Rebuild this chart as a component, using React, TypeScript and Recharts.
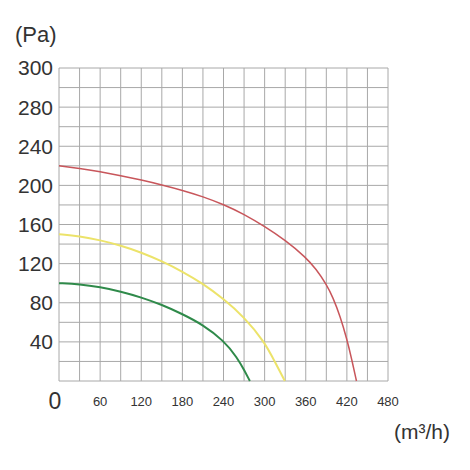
import { LineChart, Line, XAxis, YAxis, CartesianGrid } from 'recharts';

// air flow (m³/h) and static pressure (Pa)
const redFlow = [0, 30, 60, 90, 120, 150, 180, 210, 240, 270, 300, 330, 360, 375, 390, 400, 410, 420, 427, 434];
const redPressure = [220, 217.5, 214, 210, 205.5, 200.5, 195, 188.5, 180.5, 170.5, 158, 144, 126.5, 114.5, 99, 85, 66.5, 43, 22.5, 0];

const yellowFlow = [0, 30, 60, 90, 120, 150, 180, 210, 240, 270, 300, 315, 329.5];
const yellowPressure = [150, 148, 144, 138.5, 131.5, 122.5, 112, 99.5, 84, 65.5, 40, 19.5, 0];

const greenFlow = [0, 30, 60, 90, 120, 150, 180, 210, 240, 260, 271, 278.5];
const greenPressure = [100, 99, 96, 91.5, 85.5, 78, 68.5, 57.5, 41.5, 24, 10, 0];

const xTicks = [0, 60, 120, 180, 240, 300, 360, 420, 480];
const yTicks = [40, 80, 120, 160, 200, 240, 280, 320];
// the printed scale says 300 on the top line
const yTickLabels = ['40', '80', '120', '160', '200', '240', '280', '300'];

const xGrid = [0, 30, 60, 90, 120, 150, 180, 210, 240, 270, 300, 330, 360, 390, 420, 450, 480];
const yGrid = [0, 20, 40, 60, 80, 100, 120, 140, 160, 180, 200, 220, 240, 260, 280, 300, 320];

const toRows = (flow: number[], pressure: number[]) => flow.map((q, i) => ({ q, p: pressure[i] }));

const redData = toRows(redFlow, redPressure);
const yellowData = toRows(yellowFlow, yellowPressure);
const greenData = toRows(greenFlow, greenPressure);

const font = '"Liberation Sans", Arial, sans-serif';
const textColor = '#333';

const XTick = (props: any) => {
  const { x, y, payload } = props;
  const isZero = payload.value === 0;
  return (
    <text
      x={isZero ? x - 4 : x}
      y={isZero ? y + 20 : y + 17}
      textAnchor="middle"
      fontSize={isZero ? 23 : 13}
      fontFamily={font}
      fill={textColor}
    >
      {payload.value}
    </text>
  );
};

export default function App() {
  return (
    <div style={{ position: 'relative', width: 454, height: 454, fontFamily: font, color: textColor }}>
      <div style={{ position: 'absolute', left: 7, top: 16, fontSize: 22, lineHeight: 1 }}>(Pa)</div>
      <div style={{ position: 'absolute', left: 386, top: 413, fontSize: 21, lineHeight: 1 }}>(m³/h)</div>
      <LineChart width={454} height={454} margin={{ top: 60, right: 74, left: 0, bottom: 51 }}>
        <CartesianGrid stroke="#a8a8a8" horizontalValues={yGrid} verticalValues={xGrid} />
        <XAxis
          type="number"
          dataKey="q"
          domain={[0, 480]}
          ticks={xTicks}
          interval={0}
          axisLine={false}
          tickLine={false}
          tick={<XTick />}
          height={30}
        />
        <YAxis
          type="number"
          dataKey="p"
          domain={[0, 320]}
          ticks={yTicks}
          interval={0}
          axisLine={false}
          tickLine={false}
          tickSize={6}
          tickMargin={0}
          width={51}
          tick={{ fontSize: 21, fill: textColor, fontFamily: font }}
          tickFormatter={(v: number) => yTickLabels[yTicks.indexOf(v)]}
        />
        <Line data={redData} dataKey="p" type="basis" stroke="#c8565b" strokeWidth={1.5} dot={false} isAnimationActive={false} />
        <Line data={yellowData} dataKey="p" type="basis" stroke="#ece36a" strokeWidth={2} dot={false} isAnimationActive={false} />
        <Line data={greenData} dataKey="p" type="basis" stroke="#2f8a4a" strokeWidth={2} dot={false} isAnimationActive={false} />
      </LineChart>
    </div>
  );
}
